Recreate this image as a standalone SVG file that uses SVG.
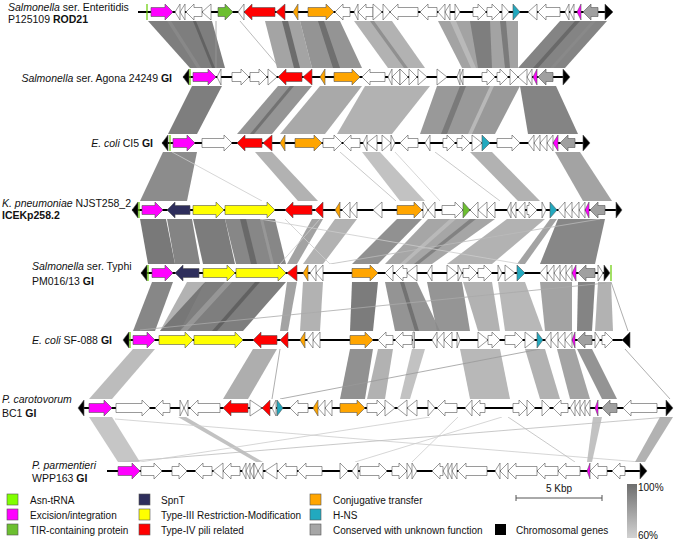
<svg xmlns="http://www.w3.org/2000/svg" width="675" height="540" viewBox="0 0 675 540">
<defs>
<linearGradient id="idg" x1="0" y1="0" x2="0" y2="1"><stop offset="0" stop-color="#6e6e6e"/><stop offset="1" stop-color="#d2d2d2"/></linearGradient>
</defs>
<style>
.gn path{stroke:#555;stroke-width:.6;stroke-linejoin:miter}
.w{fill:#fff}.m{fill:#f0f}.r{fill:#f00}.o{fill:#ffa500}.y{fill:#ff0}.n{fill:#2e2e5c}.c{fill:#22a9bf}.gr{fill:#a0a0a0}.t{fill:#6cbf30}.k{fill:#000}
.bb{stroke:#000;stroke-width:2}
.asn{stroke:#66cc00;stroke-width:1.2}
.bg{fill:#fff}
.tx{font-family:"Liberation Sans",Arial,sans-serif;font-size:10.5px;fill:#111}
.lg{font-family:"Liberation Sans",Arial,sans-serif;font-size:10px;fill:#111}
.b{font-weight:bold}
.ln{fill:none;stroke-width:.8}
#connectors polygon{opacity:.9}
.sw{stroke:#555;stroke-width:.6}
</style>
<rect width="675" height="540" fill="#fff"/>
<g id="connectors">
<!-- gap 1-2 -->
<polygon points="148,21 212,21 225,68 190,68" fill="#707070"/>
<polygon points="167,21 171,21 201,68 197,68" fill="#8a8a8a"/>
<polygon points="193,21 196,21 215,68 212,68" fill="#5f5f5f"/>
<polygon points="265,21 300,21 312,68 277,68" fill="#9a9a9a"/>
<polygon points="300,21 340,21 362,68 312,68" fill="#888"/>
<polygon points="282,21 288,21 300,68 294,68" fill="#666"/>
<polygon points="318,21 324,21 340,68 333,68" fill="#6a6a6a"/>
<polygon points="354,21 392,21 425,68 388,68" fill="#aaa"/>
<polygon points="370,21 374,21 408,68 404,68" fill="#8c8c8c"/>
<polygon points="438,21 518,21 518,68 462,68" fill="#999"/>
<polygon points="450,21 456,21 476,68 471,68" fill="#bbb"/>
<polygon points="470,21 490,21 492,68 478,68" fill="#7a7a7a"/>
<polygon points="500,21 506,21 510,68 505,68" fill="#777"/>
<polygon points="560,21 607,21 565,68 518,68" fill="#777"/>
<polygon points="575,21 580,21 538,68 533,68" fill="#666"/>
<polygon points="592,21 596,21 554,68 550,68" fill="#8a8a8a"/>
<line class="ln" x1="216" y1="21" x2="216" y2="68" stroke="#999"/>
<line class="ln" x1="240" y1="21" x2="280" y2="68" stroke="#aaa"/>
<!-- gap 2-3 -->
<polygon points="192,86 222,86 197,134 168,134" fill="#707070"/>
<polygon points="278,86 312,86 272,134 237,134" fill="#8a8a8a"/>
<polygon points="290,86 294,86 254,134 250,134" fill="#6e6e6e"/>
<polygon points="320,86 362,86 325,134 280,134" fill="#a0a0a0"/>
<polygon points="365,86 430,86 392,134 337,134" fill="#aaa"/>
<polygon points="437,86 520,86 495,134 420,134" fill="#8e8e8e"/>
<polygon points="460,86 466,86 447,134 441,134" fill="#777"/>
<polygon points="490,86 494,86 472,134 468,134" fill="#bbb"/>
<polygon points="520,86 556,86 578,134 528,134" fill="#777"/>
<!-- gap 3-4 -->
<polygon points="163,152 197,152 187,201 140,201" fill="#808080"/>
<line class="ln" x1="172" y1="152" x2="262" y2="201" stroke="#ccc"/>
<polygon points="255,152 272,152 318,201 298,201" fill="#aaa"/>
<polygon points="362,152 380,152 425,201 400,201" fill="#bbb"/>
<line class="ln" x1="340" y1="152" x2="396" y2="201" stroke="#bbb"/>
<line class="ln" x1="395" y1="152" x2="440" y2="201" stroke="#ccc"/>
<line class="ln" x1="435" y1="152" x2="500" y2="201" stroke="#bbb"/>
<polygon points="470,152 492,152 540,201 518,201" fill="#aaa"/>
<polygon points="555,152 580,152 612,201 583,201" fill="#999"/>
<!-- gap 4-5 -->
<polygon points="140,219 166,219 175,264 148,264" fill="#6a6a6a"/>
<polygon points="167,219 192,219 200,264 175,264" fill="#777"/>
<polygon points="193,219 225,219 235,264 203,264" fill="#6e6e6e"/>
<polygon points="225,219 275,219 286,264 236,264" fill="#7a7a7a"/>
<polygon points="240,219 246,219 257,264 251,264" fill="#666"/>
<polygon points="260,219 263,219 274,264 271,264" fill="#999"/>
<polygon points="312,219 323,219 297,264 287,264" fill="#999"/>
<polygon points="335,219 357,219 323,264 303,264" fill="#aaa"/>
<polygon points="397,219 422,219 378,264 352,264" fill="#858585"/>
<polygon points="428,219 495,219 432,264 385,264" fill="#9c9c9c"/>
<polygon points="450,219 456,219 405,264 400,264" fill="#bbb"/>
<polygon points="470,219 476,219 419,264 414,264" fill="#7e7e7e"/>
<polygon points="507,219 545,219 492,264 447,264" fill="#aaa"/>
<polygon points="550,219 557,219 525,264 517,264" fill="#999"/>
<polygon points="558,219 605,219 595,264 540,264" fill="#7a7a7a"/>
<line class="ln" x1="285" y1="219" x2="330" y2="264" stroke="#ccc"/>
<line class="ln" x1="320" y1="219" x2="280" y2="264" stroke="#ccc"/>
<line class="ln" x1="260" y1="219" x2="520" y2="264" stroke="#ccc"/>
<line class="ln" x1="600" y1="219" x2="330" y2="264" stroke="#bbb"/>
<!-- gap 5-6 -->
<polygon points="152,282 173,282 155,331 133,331" fill="#7a7a7a"/>
<polygon points="187,282 205,282 180,331 160,331" fill="#aaa"/>
<polygon points="205,282 286,282 243,331 160,331" fill="#707070"/>
<polygon points="225,282 232,282 187,331 180,331" fill="#999"/>
<polygon points="255,282 260,282 217,331 212,331" fill="#5e5e5e"/>
<polygon points="287,282 297,282 288,331 280,331" fill="#999"/>
<polygon points="303,282 323,282 320,331 300,331" fill="#aaa"/>
<polygon points="352,282 378,282 373,331 350,331" fill="#6e6e6e"/>
<polygon points="385,282 417,282 440,331 395,331" fill="#888"/>
<polygon points="400,282 404,282 419,331 415,331" fill="#6e6e6e"/>
<polygon points="427,282 462,282 470,331 437,331" fill="#8a8a8a"/>
<polygon points="463,282 492,282 500,331 478,331" fill="#aaa"/>
<polygon points="498,282 525,282 543,331 505,331" fill="#b0b0b0"/>
<polygon points="540,282 572,282 572,331 545,331" fill="#999"/>
<polygon points="578,282 595,282 592,331 577,331" fill="#777"/>
<polygon points="598,282 611,282 613,331 595,331" fill="#aaa"/>
<line class="ln" x1="606" y1="283" x2="140" y2="330" stroke="#aaa"/>
<line class="ln" x1="611" y1="282" x2="628" y2="331" stroke="#999"/>
<!-- gap 6-7 -->
<polygon points="133,349 155,349 112,399 89,399" fill="#b5b5b5"/>
<polygon points="253,349 277,349 248,399 223,399" fill="#a5a5a5"/>
<line class="ln" x1="280" y1="349" x2="272" y2="399" stroke="#999"/>
<polygon points="350,349 373,349 365,399 340,399" fill="#858585"/>
<polygon points="378,349 393,349 385,399 367,399" fill="#aaa"/>
<polygon points="412,349 425,349 410,399 400,399" fill="#bbb"/>
<polygon points="460,349 500,349 510,399 470,399" fill="#b0b0b0"/>
<polygon points="525,349 545,349 560,399 540,399" fill="#aaa"/>
<polygon points="557,349 575,349 590,399 570,399" fill="#9a9a9a"/>
<polygon points="577,349 592,349 617,399 602,399" fill="#888"/>
<line class="ln" x1="280" y1="399" x2="540" y2="349" stroke="#999"/>
<line class="ln" x1="625" y1="349" x2="670" y2="399" stroke="#999"/>
<!-- gap 7-8 -->
<polygon points="89,417 112,417 140,462 118,462" fill="#c0c0c0"/>
<polygon points="178,417 186,417 263,462 256,462" fill="#bbb"/>
<line class="ln" x1="115" y1="419" x2="640" y2="462" stroke="#ccc"/>
<line class="ln" x1="120" y1="462" x2="668" y2="417" stroke="#bbb"/>
<line class="ln" x1="140" y1="462" x2="430" y2="417" stroke="#ccc"/>
<line class="ln" x1="458" y1="417" x2="412" y2="462" stroke="#ccc"/>
<line class="ln" x1="502" y1="417" x2="355" y2="462" stroke="#ccc"/>
<line class="ln" x1="508" y1="417" x2="575" y2="462" stroke="#bbb"/>
<polygon points="593,417 602,417 592,462 587,462" fill="#bbb"/>
<polygon points="660,417 673,417 645,462 635,462" fill="#aaa"/>
</g>

<g id="track1" class="gn" transform="translate(0,12)">
<rect class="bg" x="136" y="-9" width="479" height="18"/>
<line class="bb" x1="138" y1="0" x2="607" y2="0"/>
<line class="asn" x1="147" y1="-8" x2="147" y2="8"/>
<path class="m" d="M151 -4.5H165V-8L173 0L165 8V4.5H151Z"/>
<path class="w" d="M180 -8L175 0L180 8Z"/>
<path class="w" d="M185 -8L180 0L185 8Z"/>
<path class="w" d="M202 -4.5H194V-8L186 0L194 8V4.5H202Z"/>
<path class="w" d="M211 -8L202 0L211 8Z"/>
<path class="t" d="M218 -4.5H225V-8L233 0L225 8V4.5H218Z"/>
<path class="w" d="M244 -8L238 0L244 8Z"/>
<path class="r" d="M275 -4.5H252V-8L244 0L252 8V4.5H275Z"/>
<path class="r" d="M285 -8L276 0L285 8Z"/>
<path class="o" d="M298 -8L293 0L298 8Z"/>
<path class="o" d="M308 -4.5H326V-8L334 0L326 8V4.5H308Z"/>
<path class="w" d="M350 -4.5H343V-8L335 0L343 8V4.5H350Z"/>
<path class="w" d="M358 -8L354 0L358 8Z"/>
<path class="w" d="M373 -4.5H366V-8L358 0L366 8V4.5H373Z"/>
<path class="w" d="M373 -8L382 0L373 8Z"/>
<path class="w" d="M383 -8L390 0L383 8Z"/>
<path class="w" d="M418 -4.5H398V-8L390 0L398 8V4.5H418Z"/>
<path class="w" d="M437 -4.5H428V-8L420 0L428 8V4.5H437Z"/>
<path class="w" d="M445 -8L438 0L445 8Z"/>
<path class="w" d="M450 -8L445 0L450 8Z"/>
<path class="w" d="M455 -8L460 0L455 8Z"/>
<path class="w" d="M473 -4.5H478V-8L486 0L478 8V4.5H473Z"/>
<path class="w" d="M487 -4.5H492V-8L500 0L492 8V4.5H487Z"/>
<path class="w" d="M502 -8L509 0L502 8Z"/>
<path class="c" d="M513 -8L520 0L513 8Z"/>
<path class="w" d="M537 -8L528 0L537 8Z"/>
<path class="w" d="M560 -4.5H546V-8L538 0L546 8V4.5H560Z"/>
<path class="w" d="M569 -8L565 0L569 8Z"/>
<path class="w" d="M574 -8L570 0L574 8Z"/>
<path class="m" d="M581 -8L577 0L581 8Z"/>
<path class="gr" d="M598 -4.5H591V-8L583 0L591 8V4.5H598Z"/>
<path class="k" d="M605 -8L613 0L605 8Z"/>
</g>

<g id="track2" class="gn" transform="translate(0,77)">
<rect class="bg" x="181" y="-9" width="391" height="18"/>
<line class="bb" x1="183" y1="0" x2="565" y2="0"/>
<path class="k" d="M189 -8L183 0L189 8Z"/>
<line class="asn" x1="190" y1="-8" x2="190" y2="8"/>
<path class="m" d="M193 -4.5H208V-8L216 0L208 8V4.5H193Z"/>
<path class="w" d="M221 -8L217 0L221 8Z"/>
<path class="w" d="M232 -4.5H241V-8L249 0L241 8V4.5H232Z"/>
<path class="w" d="M250 -4.5H259V-8L267 0L259 8V4.5H250Z"/>
<path class="w" d="M268 -8L277 0L268 8Z"/>
<path class="r" d="M302 -4.5H286V-8L278 0L286 8V4.5H302Z"/>
<path class="r" d="M312 -8L303 0L312 8Z"/>
<path class="o" d="M325 -8L320 0L325 8Z"/>
<path class="o" d="M334 -4.5H352V-8L360 0L352 8V4.5H334Z"/>
<path class="w" d="M385 -4.5H370V-8L362 0L370 8V4.5H385Z"/>
<path class="w" d="M392 -8L388 0L392 8Z"/>
<path class="w" d="M400 -8L392 0L400 8Z"/>
<path class="w" d="M400 -8L408 0L400 8Z"/>
<path class="w" d="M409 -8L417 0L409 8Z"/>
<path class="w" d="M418 -8L427 0L418 8Z"/>
<path class="w" d="M437 -8L447 0L437 8Z"/>
<path class="w" d="M460 -8L457 0L460 8Z"/>
<path class="w" d="M463 -8L460 0L463 8Z"/>
<path class="w" d="M482 -4.5H487V-8L495 0L487 8V4.5H482Z"/>
<path class="w" d="M497 -4.5H500V-8L508 0L500 8V4.5H497Z"/>
<path class="w" d="M510 -8L518 0L510 8Z"/>
<path class="w" d="M527 -8L518 0L527 8Z"/>
<path class="w" d="M532 -8L527 0L532 8Z"/>
<path class="m" d="M537 -8L533 0L537 8Z"/>
<path class="gr" d="M553 -4.5H546V-8L538 0L546 8V4.5H553Z"/>
<path class="k" d="M563 -8L570 0L563 8Z"/>
</g>

<g id="track3" class="gn" transform="translate(0,143)">
<rect class="bg" x="160" y="-9" width="432" height="18"/>
<line class="bb" x1="162" y1="0" x2="585" y2="0"/>
<path class="k" d="M168 -8L162 0L168 8Z"/>
<line class="asn" x1="170" y1="-8" x2="170" y2="8"/>
<path class="m" d="M173 -4.5H187V-8L195 0L187 8V4.5H173Z"/>
<path class="w" d="M202 -4.5H224V-8L232 0L224 8V4.5H202Z"/>
<path class="r" d="M262 -4.5H245V-8L237 0L245 8V4.5H262Z"/>
<path class="r" d="M272 -8L263 0L272 8Z"/>
<path class="o" d="M285 -8L280 0L285 8Z"/>
<path class="o" d="M295 -4.5H314V-8L322 0L314 8V4.5H295Z"/>
<path class="w" d="M323 -4.5H334V-8L342 0L334 8V4.5H323Z"/>
<path class="w" d="M360 -4.5H351V-8L343 0L351 8V4.5H360Z"/>
<path class="w" d="M367 -8L363 0L367 8Z"/>
<path class="w" d="M377 -8L367 0L377 8Z"/>
<path class="w" d="M382 -8L391 0L382 8Z"/>
<path class="w" d="M391 -8L395 0L391 8Z"/>
<path class="w" d="M418 -4.5H408V-8L400 0L408 8V4.5H418Z"/>
<path class="w" d="M430 -8L425 0L430 8Z"/>
<path class="w" d="M443 -4.5H447V-8L455 0L447 8V4.5H443Z"/>
<path class="w" d="M457 -4.5H462V-8L470 0L462 8V4.5H457Z"/>
<path class="w" d="M472 -8L482 0L472 8Z"/>
<path class="c" d="M482 -8L490 0L482 8Z"/>
<path class="w" d="M497 -4.5H512V-8L520 0L512 8V4.5H497Z"/>
<path class="w" d="M534 -8L528 0L534 8Z"/>
<path class="w" d="M540 -8L534 0L540 8Z"/>
<path class="w" d="M547 -8L540 0L547 8Z"/>
<path class="w" d="M553 -8L547 0L553 8Z"/>
<path class="m" d="M558 -8L553 0L558 8Z"/>
<path class="gr" d="M575 -4.5H568V-8L560 0L568 8V4.5H575Z"/>
<path class="k" d="M583 -8L590 0L583 8Z"/>
</g>

<g id="track4" class="gn" transform="translate(0,210)">
<rect class="bg" x="130" y="-9" width="494" height="18"/>
<line class="bb" x1="132" y1="0" x2="617" y2="0"/>
<path class="k" d="M138 -8L132 0L138 8Z"/>
<line class="asn" x1="139" y1="-8" x2="139" y2="8"/>
<path class="m" d="M142 -4.5H155V-8L163 0L155 8V4.5H142Z"/>
<path class="n" d="M190 -4.5H175V-8L167 0L175 8V4.5H190Z"/>
<path class="y" d="M193 -4.5H216V-8L224 0L216 8V4.5H193Z"/>
<path class="y" d="M225 -4.5H267V-8L275 0L267 8V4.5H225Z"/>
<path class="r" d="M312 -4.5H293V-8L285 0L293 8V4.5H312Z"/>
<path class="r" d="M323 -8L315 0L323 8Z"/>
<path class="o" d="M340 -8L335 0L340 8Z"/>
<path class="w" d="M350 -8L342 0L350 8Z"/>
<path class="w" d="M357 -8L350 0L357 8Z"/>
<path class="w" d="M382 -8L373 0L382 8Z"/>
<path class="o" d="M397 -4.5H414V-8L422 0L414 8V4.5H397Z"/>
<path class="w" d="M423 -8L428 0L423 8Z"/>
<path class="w" d="M435 -8L428 0L435 8Z"/>
<path class="w" d="M442 -4.5H455V-8L463 0L455 8V4.5H442Z"/>
<path class="t" d="M463 -8L470 0L463 8Z"/>
<path class="w" d="M478 -8L470 0L478 8Z"/>
<path class="w" d="M487 -8L478 0L487 8Z"/>
<path class="w" d="M495 -8L487 0L495 8Z"/>
<path class="w" d="M511 -8L507 0L511 8Z"/>
<path class="w" d="M516 -8L511 0L516 8Z"/>
<path class="w" d="M525 -8L518 0L525 8Z"/>
<path class="w" d="M527 -4.5H529V-8L537 0L529 8V4.5H527Z"/>
<path class="w" d="M542 -8L546 0L542 8Z"/>
<path class="c" d="M550 -8L557 0L550 8Z"/>
<path class="w" d="M565 -8L558 0L565 8Z"/>
<path class="w" d="M572 -8L565 0L572 8Z"/>
<path class="w" d="M579 -8L572 0L579 8Z"/>
<path class="w" d="M585 -8L579 0L585 8Z"/>
<path class="m" d="M589 -8L585 0L589 8Z"/>
<path class="gr" d="M605 -4.5H598V-8L590 0L598 8V4.5H605Z"/>
<path class="k" d="M616 -8L622 0L616 8Z"/>
</g>

<g id="track5" class="gn" transform="translate(0,273)">
<rect class="bg" x="139" y="-9" width="474" height="18"/>
<line class="bb" x1="141" y1="0" x2="606" y2="0"/>
<path class="k" d="M147 -8L141 0L147 8Z"/>
<line class="asn" x1="148" y1="-8" x2="148" y2="8"/>
<path class="m" d="M152 -4.5H165V-8L173 0L165 8V4.5H152Z"/>
<path class="n" d="M199 -4.5H183V-8L175 0L183 8V4.5H199Z"/>
<path class="y" d="M203 -4.5H227V-8L235 0L227 8V4.5H203Z"/>
<path class="y" d="M236 -4.5H278V-8L286 0L278 8V4.5H236Z"/>
<path class="r" d="M297 -8L287 0L297 8Z"/>
<path class="o" d="M308 -8L303 0L308 8Z"/>
<path class="w" d="M316 -8L310 0L316 8Z"/>
<path class="w" d="M323 -8L316 0L323 8Z"/>
<path class="o" d="M352 -4.5H370V-8L378 0L370 8V4.5H352Z"/>
<path class="w" d="M393 -8L385 0L393 8Z"/>
<path class="w" d="M407 -4.5H403V-8L395 0L403 8V4.5H407Z"/>
<path class="w" d="M417 -8L407 0L417 8Z"/>
<path class="w" d="M432 -8L427 0L432 8Z"/>
<path class="w" d="M447 -8L457 0L447 8Z"/>
<path class="w" d="M458 -8L462 0L458 8Z"/>
<path class="w" d="M463 -4.5H469V-8L477 0L469 8V4.5H463Z"/>
<path class="w" d="M478 -4.5H484V-8L492 0L484 8V4.5H478Z"/>
<path class="w" d="M498 -8L502 0L498 8Z"/>
<path class="w" d="M505 -8L515 0L505 8Z"/>
<path class="c" d="M517 -8L525 0L517 8Z"/>
<path class="w" d="M547 -8L540 0L547 8Z"/>
<path class="w" d="M554 -8L548 0L554 8Z"/>
<path class="w" d="M560 -8L554 0L560 8Z"/>
<path class="w" d="M566 -8L560 0L566 8Z"/>
<path class="w" d="M572 -8L566 0L572 8Z"/>
<path class="m" d="M576 -8L572 0L576 8Z"/>
<path class="gr" d="M595 -4.5H586V-8L578 0L586 8V4.5H595Z"/>
<path class="w" d="M598 -8L603 0L598 8Z"/>
<path class="k" d="M604 -8L610 0L604 8Z"/>
<line class="asn" x1="611" y1="-8" x2="611" y2="8"/>
</g>

<g id="track6" class="gn" transform="translate(0,340)">
<rect class="bg" x="121" y="-9" width="511" height="18"/>
<line class="bb" x1="127" y1="0" x2="626" y2="0"/>
<path class="k" d="M129 -8L123 0L129 8Z"/>
<line class="asn" x1="130" y1="-8" x2="130" y2="8"/>
<path class="m" d="M133 -4.5H147V-8L155 0L147 8V4.5H133Z"/>
<path class="y" d="M159 -4.5H185V-8L193 0L185 8V4.5H159Z"/>
<path class="y" d="M194 -4.5H235V-8L243 0L235 8V4.5H194Z"/>
<path class="r" d="M277 -4.5H261V-8L253 0L261 8V4.5H277Z"/>
<path class="r" d="M288 -8L280 0L288 8Z"/>
<path class="o" d="M305 -8L300 0L305 8Z"/>
<path class="w" d="M313 -8L307 0L313 8Z"/>
<path class="w" d="M320 -8L313 0L320 8Z"/>
<path class="o" d="M350 -4.5H365V-8L373 0L365 8V4.5H350Z"/>
<path class="w" d="M393 -4.5H386V-8L378 0L386 8V4.5H393Z"/>
<path class="w" d="M412 -4.5H403V-8L395 0L403 8V4.5H412Z"/>
<path class="w" d="M413 -8H414.5V8H413Z"/>
<path class="w" d="M437 -8L432 0L437 8Z"/>
<path class="w" d="M444 -8L437 0L444 8Z"/>
<path class="w" d="M452 -8L444 0L452 8Z"/>
<path class="w" d="M457 -8L460 0L457 8Z"/>
<path class="w" d="M478 -8L488 0L478 8Z"/>
<path class="w" d="M488 -4.5H492V-8L500 0L492 8V4.5H488Z"/>
<path class="w" d="M505 -4.5H515V-8L523 0L515 8V4.5H505Z"/>
<path class="w" d="M525 -8L535 0L525 8Z"/>
<path class="c" d="M537 -8L543 0L537 8Z"/>
<path class="w" d="M551 -8L545 0L551 8Z"/>
<path class="w" d="M558 -8L551 0L558 8Z"/>
<path class="w" d="M565 -8L558 0L565 8Z"/>
<path class="w" d="M572 -8L565 0L572 8Z"/>
<path class="m" d="M575 -8L572 0L575 8Z"/>
<path class="gr" d="M592 -4.5H585V-8L577 0L585 8V4.5H592Z"/>
<path class="w" d="M595 -8L600 0L595 8Z"/>
<path class="w" d="M602 -4.5H605V-8L613 0L605 8V4.5H602Z"/>
<path class="k" d="M630 -8L622 0L630 8Z"/>
</g>

<g id="track7" class="gn" transform="translate(0,408)">
<rect class="bg" x="76" y="-9" width="599" height="18"/>
<line class="bb" x1="80" y1="0" x2="668" y2="0"/>
<path class="k" d="M84 -8L78 0L84 8Z"/>
<path class="m" d="M89 -4.5H104V-8L112 0L104 8V4.5H89Z"/>
<path class="w" d="M116 -4.5H142V-8L150 0L142 8V4.5H116Z"/>
<path class="w" d="M170 -4.5H163V-8L155 0L163 8V4.5H170Z"/>
<path class="w" d="M180 -8L184 0L180 8Z"/>
<path class="w" d="M188 -8L184 0L188 8Z"/>
<path class="w" d="M220 -4.5H198V-8L190 0L198 8V4.5H220Z"/>
<path class="r" d="M248 -4.5H231V-8L223 0L231 8V4.5H248Z"/>
<path class="w" d="M250 -8L262 0L250 8Z"/>
<path class="r" d="M270 -8L262 0L270 8Z"/>
<path class="w" d="M276 -8L272 0L276 8Z"/>
<path class="c" d="M277 -8L283 0L277 8Z"/>
<path class="w" d="M308 -4.5H298V-8L290 0L298 8V4.5H308Z"/>
<path class="o" d="M318 -8L313 0L318 8Z"/>
<path class="w" d="M325 -8L318 0L325 8Z"/>
<path class="w" d="M332 -8L325 0L332 8Z"/>
<path class="o" d="M340 -4.5H357V-8L365 0L357 8V4.5H340Z"/>
<path class="w" d="M367 -4.5H377V-8L385 0L377 8V4.5H367Z"/>
<path class="w" d="M385 -8L395 0L385 8Z"/>
<path class="w" d="M407 -8L397 0L407 8Z"/>
<path class="w" d="M417 -8L407 0L417 8Z"/>
<path class="w" d="M428 -8L435 0L428 8Z"/>
<path class="w" d="M457 -4.5H445V-8L437 0L445 8V4.5H457Z"/>
<path class="w" d="M472 -8L465 0L472 8Z"/>
<path class="w" d="M485 -4.5H480V-8L472 0L480 8V4.5H485Z"/>
<path class="w" d="M513 -4.5H519V-8L527 0L519 8V4.5H513Z"/>
<path class="w" d="M527 -8L535 0L527 8Z"/>
<path class="w" d="M542 -8L550 0L542 8Z"/>
<path class="w" d="M568 -4.5H561V-8L553 0L561 8V4.5H568Z"/>
<path class="w" d="M575 -8L570 0L575 8Z"/>
<path class="w" d="M580 -8L575 0L580 8Z"/>
<path class="w" d="M585 -8L580 0L585 8Z"/>
<path class="w" d="M590 -8L585 0L590 8Z"/>
<path class="m" d="M598 -8L595 0L598 8Z"/>
<path class="gr" d="M617 -4.5H610V-8L602 0L610 8V4.5H617Z"/>
<path class="w" d="M657 -4.5H631V-8L623 0L631 8V4.5H657Z"/>
<path class="k" d="M666 -8L673 0L666 8Z"/>
</g>

<g id="track8" class="gn" transform="translate(0,471)">
<rect class="bg" x="105" y="-9" width="545" height="18"/>
<line class="bb" x1="107" y1="0" x2="642" y2="0"/>
<path class="m" d="M118 -4.5H132V-8L140 0L132 8V4.5H118Z"/>
<path class="w" d="M141 -4.5H154V-8L162 0L154 8V4.5H141Z"/>
<path class="w" d="M172 -4.5H179V-8L187 0L179 8V4.5H172Z"/>
<path class="w" d="M212 -4.5H203V-8L195 0L203 8V4.5H212Z"/>
<path class="w" d="M223 -8L213 0L223 8Z"/>
<path class="w" d="M240 -4.5H231V-8L223 0L231 8V4.5H240Z"/>
<path class="w" d="M246 -8L242 0L246 8Z"/>
<path class="w" d="M250 -8L246 0L250 8Z"/>
<path class="w" d="M254 -8L250 0L254 8Z"/>
<path class="w" d="M254 -8L258 0L254 8Z"/>
<path class="w" d="M263 -8L258 0L263 8Z"/>
<path class="w" d="M277 -8L265 0L277 8Z"/>
<path class="w" d="M297 -4.5H286V-8L278 0L286 8V4.5H297Z"/>
<path class="w" d="M322 -4.5H306V-8L298 0L306 8V4.5H322Z"/>
<path class="w" d="M340 -8L348 0L340 8Z"/>
<path class="w" d="M358 -8L352 0L358 8Z"/>
<path class="w" d="M360 -4.5H379V-8L387 0L379 8V4.5H360Z"/>
<path class="w" d="M392 -4.5H399V-8L407 0L399 8V4.5H392Z"/>
<path class="w" d="M407 -8L412 0L407 8Z"/>
<path class="w" d="M412 -8L417 0L412 8Z"/>
<path class="w" d="M443 -4.5H440V-8L432 0L440 8V4.5H443Z"/>
<path class="w" d="M448 -8L443 0L448 8Z"/>
<path class="w" d="M452 -8L448 0L452 8Z"/>
<path class="w" d="M457 -8L452 0L457 8Z"/>
<path class="w" d="M487 -4.5H466V-8L458 0L466 8V4.5H487Z"/>
<path class="w" d="M500 -8L495 0L500 8Z"/>
<path class="w" d="M508 -8L500 0L508 8Z"/>
<path class="w" d="M537 -4.5H516V-8L508 0L516 8V4.5H537Z"/>
<path class="w" d="M558 -4.5H545V-8L537 0L545 8V4.5H558Z"/>
<path class="w" d="M580 -4.5H566V-8L558 0L566 8V4.5H580Z"/>
<path class="m" d="M590 -8L587 0L590 8Z"/>
<path class="w" d="M607 -4.5H598V-8L590 0L598 8V4.5H607Z"/>
<path class="w" d="M625 -4.5H620V-8L612 0L620 8V4.5H625Z"/>
<path class="k" d="M640 -8L647 0L640 8Z"/>
</g>

<g id="labels">
<text class="tx" x="8" y="11"><tspan font-style="italic">Salmonella</tspan> ser. Enteritidis</text>
<text class="tx" x="8" y="23">P125109 <tspan class="b">ROD21</tspan></text>
<text class="tx" x="172" y="82" text-anchor="end"><tspan font-style="italic">Salmonella</tspan> ser. Agona 24249 <tspan class="b">GI</tspan></text>
<text class="tx" x="153" y="147" text-anchor="end"><tspan font-style="italic">E. coli</tspan> CI5 <tspan class="b">GI</tspan></text>
<text class="tx" x="2" y="207"><tspan font-style="italic">K. pneumoniae</tspan> NJST258_2</text>
<text class="tx b" x="2" y="219">ICEKp258.2</text>
<text class="tx" x="32" y="270"><tspan font-style="italic">Salmonella</tspan> ser. Typhi</text>
<text class="tx" x="32" y="285">PM016/13 <tspan class="b">GI</tspan></text>
<text class="tx" x="32" y="344"><tspan font-style="italic">E. coli</tspan> SF-088 <tspan class="b">GI</tspan></text>
<text class="tx" x="2" y="403" font-style="italic">P. carotovorum</text>
<text class="tx" x="2" y="417">BC1 <tspan class="b">GI</tspan></text>
<text class="tx" x="32" y="469" font-style="italic">P. parmentieri</text>
<text class="tx" x="32" y="482">WPP163 <tspan class="b">GI</tspan></text>
</g>

<g id="legend">
<rect class="sw" x="7" y="494" width="11" height="11" fill="#80ff00"/>
<rect class="sw" x="7" y="509" width="11" height="11" fill="#f0f"/>
<rect class="sw" x="7" y="524" width="11" height="11" fill="#6cbf30"/>
<text class="lg" x="30" y="504">Asn-tRNA</text>
<text class="lg" x="30" y="519">Excision/integration</text>
<text class="lg" x="30" y="534">TIR-containing protein</text>
<rect class="sw" x="139" y="494" width="11" height="11" fill="#2e2e5c"/>
<rect class="sw" x="139" y="509" width="11" height="11" fill="#ff0"/>
<rect class="sw" x="139" y="524" width="11" height="11" fill="#f00"/>
<text class="lg" x="161" y="504">SpnT</text>
<text class="lg" x="161" y="519">Type-III  Restriction-Modification</text>
<text class="lg" x="161" y="534">Type-IV  pili related</text>
<rect class="sw" x="310" y="494" width="11" height="11" fill="#ffa500"/>
<rect class="sw" x="310" y="509" width="11" height="11" fill="#22a9bf"/>
<rect class="sw" x="310" y="524" width="11" height="11" fill="#a6a6a6"/>
<text class="lg" x="333" y="504">Conjugative transfer</text>
<text class="lg" x="333" y="519">H-NS</text>
<text class="lg" x="333" y="534">Conserved with unknown function</text>
<rect x="495" y="524" width="11" height="11" fill="#000"/>
<text class="lg" x="516" y="534">Chromosomal genes</text>
<text class="lg" x="559" y="492" text-anchor="middle">5 Kbp</text>
<path d="M516 498H602M516 495V501M602 495V501" stroke="#555" stroke-width="1" fill="none"/>
<rect x="627" y="484" width="10" height="54" fill="url(#idg)"/>
<text class="lg" x="638" y="491" font-size="9.5">100%</text>
<text class="lg" x="638" y="539" font-size="9.5">60%</text>
</g>
</svg>
